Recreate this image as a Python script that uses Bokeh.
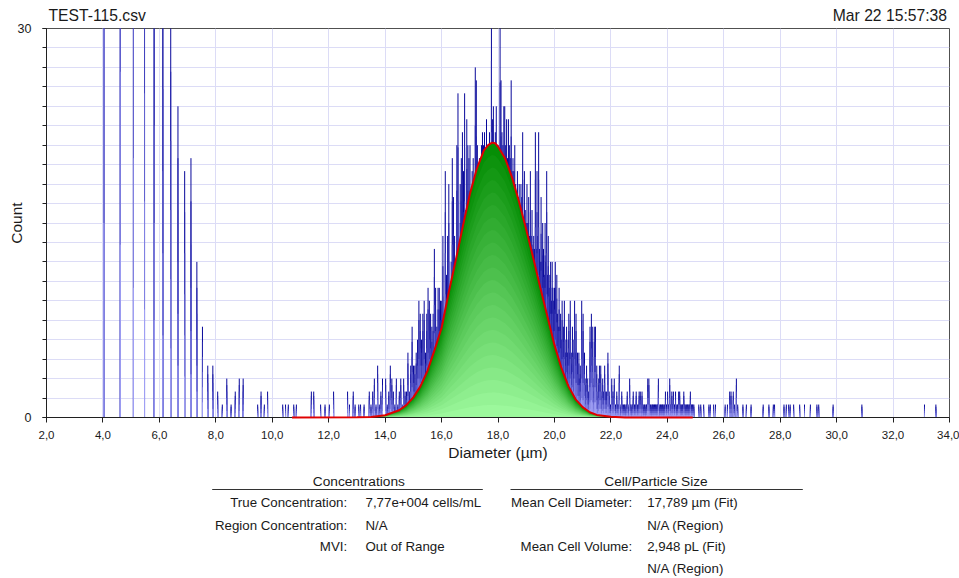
import numpy as np
from bokeh.plotting import figure
from bokeh.models import Range1d, FixedTicker
from bokeh.layouts import column
from bokeh.embed import file_html
from bokeh.resources import INLINE
from bokeh.core.properties import value

FONT = "Liberation Sans"

# ---------------- texts ----------------
title_left = "TEST-115.csv"
title_right = "Mar 22 15:57:38"
x_label = "Diameter (µm)"
y_label = "Count"
x_ticks = [2, 4, 6, 8, 10, 12, 14, 16, 18, 20, 22, 24, 26, 28, 30, 32, 34]
x_tick_labels = ["2,0", "4,0", "6,0", "8,0", "10,0", "12,0", "14,0", "16,0", "18,0",
                 "20,0", "22,0", "24,0", "26,0", "28,0", "30,0", "32,0", "34,0"]
y_ticks = [0, 30]
y_minor_ticks = [0, 1.5, 3, 4.5, 6, 7.5, 9, 10.5, 12, 13.5, 15, 16.5, 18, 19.5, 21,
                 22.5, 24, 25.5, 27, 28.5, 30]

conc_title = "Concentrations"
conc_labels = ["True Concentration:", "Region Concentration:", "MVI:"]
conc_values = ["7,77e+004 cells/mL", "N/A", "Out of Range"]
size_title = "Cell/Particle Size"
size_labels = ["Mean Cell Diameter:", "", "Mean Cell Volume:", ""]
size_values = ["17,789 µm (Fit)", "N/A (Region)", "2,948 pL (Fit)", "N/A (Region)"]

# ---------------- histogram data (equal-volume bins, bin i centre volume = i * step) ----
bin_volume_step = 32.8  # fL per bin

left_bins = [2, 3, 4, 5, 6, 7, 8, 9, 10, 11, 12, 13, 14, 15, 16, 17, 18, 19, 20, 21, 22,
             26, 27, 28, 29, 34, 35, 36, 38, 39, 45, 46, 49, 51, 53, 55, 62, 63, 65, 66,
             68, 69, 71, 74]
left_counts = [90, 80, 60, 50, 45, 38, 32, 24, 19, 20, 12, 7, 4, 4, 2, 1, 3, 1, 2, 3, 3,
               1, 2, 1, 2, 1, 1, 1, 1, 1, 2, 2, 1, 1, 1, 2, 2, 1, 2, 1,
               1, 1, 1, 2]

dense_first_bin = 75
dense_counts = [
    1, 2, 3, 1, 4, 1, 2, 3, 0, 3,
    1, 2, 4, 3, 2, 1, 3, 1, 2, 3,
    1, 3, 2, 2, 5, 2, 4, 7, 4, 4,
    5, 6, 9, 8, 6, 8, 9, 5, 8, 10,
    9, 8, 7, 8, 13, 10, 7, 10, 10, 9,
    9, 14, 8, 19, 11, 14, 18, 10, 12, 20,
    17, 14, 12, 21, 25, 13, 18, 20, 22, 19,
    25, 16, 23, 21, 20, 21, 17, 19, 20, 18,
    27, 26, 21, 19, 20, 18, 21, 22, 21, 22,
    20, 23, 20, 21, 22, 20, 33, 23, 24, 21,
    22, 24, 20, 21, 20, 31, 26, 22, 21, 24,
    24, 21, 23, 20, 23, 21, 20, 26, 19, 20,
    19, 21, 18, 17, 19, 17, 18, 16, 18, 17,
    22, 15, 19, 16, 15, 18, 15, 17, 14, 19,
    14, 16, 13, 14, 13, 22, 13, 19, 14, 22,
    13, 12, 17, 12, 15, 13, 11, 15, 12, 19,
    11, 14, 10, 11, 12, 9, 12, 10, 9, 10,
    12, 8, 11, 8, 7, 10, 7, 8, 6, 9,
    6, 7, 9, 6, 5, 7, 5, 6, 8, 5,
    9, 4, 5, 7, 4, 6, 9, 5, 8, 4,
    5, 3, 5, 3, 4, 2, 9, 4, 8, 3,
    5, 3, 2, 4, 3, 1, 2, 3, 7, 4,
    8, 3, 7, 2, 3, 7, 7, 2, 4, 1,
    2, 3, 4, 2, 4, 1, 2, 3, 2, 1,
    4, 2, 1, 2, 1, 5, 1, 2, 1, 1,
    0, 3, 1, 2, 1, 3, 1, 1, 0, 2,
    1, 1, 1, 4, 1, 0, 1, 2, 1, 0,
    1, 1, 1, 0, 1, 1, 2, 1, 0, 1,
    3, 1, 1, 0, 1, 1, 2, 1, 1, 0,
    1, 2, 1, 1, 0, 1, 2, 1, 2, 1,
    0, 2, 1, 1, 0, 1, 1, 0, 1, 1,
    1, 3, 1, 3, 1, 0, 1, 1, 0, 1,
    1, 1, 0, 1, 1, 1, 0, 1, 1, 1,
    3, 1, 0, 1, 1, 0, 1, 1, 1, 0,
    1, 1, 0, 2, 1, 1, 0, 2, 1, 1,
    0, 3, 1, 1, 0, 2, 1, 1, 2, 0,
    1, 1, 2, 1, 0, 1, 1, 0, 2, 1,
    2, 0, 1, 1, 0, 1, 1, 0, 2, 1,
    1, 0, 1, 1, 0, 1, 1, 0, 1, 1,
    0, 2, 1, 1, 0, 1, 1, 0, 1,
]

right_bins = [483, 487, 493, 504, 507, 514, 518, 539, 544, 549, 552, 557, 560, 564, 567,
              579, 587, 598, 627, 641, 652, 655, 679, 685, 691, 695, 704, 720, 733, 749,
              767, 772, 813, 899, 1107, 1148]
right_counts = [1, 1, 1, 1, 1, 1, 1, 1, 1, 2, 2, 2, 1, 3, 1,
                1, 1, 1, 1, 1, 1, 1, 1, 1, 1, 1, 1, 1, 1, 1,
                1, 1, 1, 1, 1, 1]

# ---------------- fitted curve ----------------
fit_diam = [10.7, 13.0, 13.5, 14.0, 14.5, 14.75, 15.0, 15.25, 15.5, 15.75, 16.0, 16.25,
            16.5, 16.75, 17.0, 17.25, 17.5, 17.65, 17.79, 17.9, 18.0, 18.25, 18.5, 18.75,
            19.0, 19.25, 19.5, 19.75, 20.0, 20.25, 20.5, 20.75, 21.0, 21.25, 21.5, 22.0,
            22.5, 24.9]
fit_count = [0, 0.01, 0.04, 0.17, 0.56, 0.95, 1.55, 2.4, 3.6, 5.2, 6.9, 9.6,
             12.1, 14.7, 17.2, 19.2, 20.6, 21.0, 21.2, 21.15, 20.9, 20.0, 18.5, 16.6,
             14.5, 12.3, 10.0, 7.8, 5.6, 3.8, 2.4, 1.4, 0.8, 0.4, 0.2, 0.05,
             0.0, 0.0]

# ---------------- assemble bars ----------------
idx = np.array(left_bins + list(range(dense_first_bin, dense_first_bin + len(dense_counts)))
               + right_bins, dtype=float)
cnt = np.array(left_counts + dense_counts + right_counts, dtype=float)
keep = cnt > 0
idx, cnt = idx[keep], cnt[keep]
diam = np.cbrt(bin_volume_step * idx)


def mix(c1, c2, t):
    a = [int(c1[i:i + 2], 16) for i in (1, 3, 5)]
    b = [int(c2[i:i + 2], 16) for i in (1, 3, 5)]
    return "#%02x%02x%02x" % tuple(int(round(a[j] + (b[j] - a[j]) * t)) for j in range(3))


GRID = "#dcdcf6"
TXT = "#1a1a1a"
BORDERS = dict(min_border_left=46, min_border_right=10)

# ---------------- header (data x = page pixel) ----------------
h = figure(width=959, height=23, x_range=Range1d(46, 949), y_range=Range1d(23, 0),
           output_backend="svg", toolbar_location=None, title=None,
           x_axis_type=None, y_axis_type=None, min_border_top=0, min_border_bottom=0,
           **BORDERS)
h.grid.visible = False
h.outline_line_color = None
h.text(x=[48], y=[15.2], text=[title_left], text_font=value(FONT), text_font_size="15.7px",
       text_align="left", text_baseline="middle", text_color=TXT)
h.text(x=[946.5], y=[15.2], text=[title_right], text_font=value(FONT), text_font_size="15.7px",
       text_align="right", text_baseline="middle", text_color=TXT)

# ---------------- main plot ----------------
p = figure(width=959, height=447, x_range=Range1d(2, 34), y_range=Range1d(0, 30),
           output_backend="svg", toolbar_location=None, title=None,
           min_border_top=5, min_border_bottom=53, **BORDERS)
p.outline_line_color = "#505050"
p.outline_line_width = 1

p.xaxis.ticker = FixedTicker(ticks=x_ticks)
p.xaxis.major_label_overrides = {t: l for t, l in zip(x_ticks, x_tick_labels)}
p.xaxis.axis_label = x_label
p.xaxis.major_tick_out = 5
p.xaxis.major_tick_in = 0
p.xaxis.minor_tick_line_color = None
p.xaxis.major_label_standoff = 8
p.xaxis.axis_label_standoff = 2
p.xaxis.major_label_text_font_size = "11.5px"

p.yaxis.ticker = FixedTicker(ticks=y_ticks, minor_ticks=y_minor_ticks)
p.yaxis.axis_label = y_label
p.yaxis.major_tick_out = 4
p.yaxis.major_tick_in = 0
p.yaxis.minor_tick_out = 4
p.yaxis.minor_tick_in = 0
p.yaxis.major_label_standoff = 11
p.yaxis.axis_label_standoff = -10
p.yaxis.major_label_text_font_size = "12.5px"

for ax in (p.xaxis, p.yaxis):
    ax.axis_line_color = "#202020"
    ax.major_tick_line_color = "#202020"
    ax.major_label_text_font = FONT
    ax.major_label_text_color = TXT
    ax.axis_label_text_font = FONT
    ax.axis_label_text_font_size = "15.5px"
    ax.axis_label_text_font_style = "normal"
    ax.axis_label_text_color = TXT
p.yaxis.minor_tick_line_color = "#202020"

p.xgrid.grid_line_color = GRID
p.ygrid.grid_line_color = GRID
p.ygrid.minor_grid_line_color = GRID

# histogram bars with a per-bar vertical gradient (dark top, light bottom)
K = 6
bar_top, bar_bottom = "#08089a", "#a0a0f4"
for k in range(K):
    frac = 1 - k / K
    p.segment(x0=diam, y0=np.zeros_like(cnt), x1=diam, y1=cnt * frac,
              line_color=mix(bar_top, bar_bottom, k / (K - 1)), line_width=1)

# fitted curve filled with a green gradient
G = 22
green_top, green_bottom = "#068e06", "#9cf89c"
fit_arr = np.array(fit_count)
for k in range(G):
    frac = 1 - k / G
    p.varea(x=fit_diam, y1=np.zeros_like(fit_arr), y2=fit_arr * frac,
            fill_color=mix(green_top, green_bottom, k / (G - 1)), fill_alpha=1)
p.line(x=fit_diam, y=fit_count, line_color="#e00000", line_width=2, level="overlay")

# ---------------- results table (data x / y = page pixel) ----------------
t = figure(width=959, height=108, x_range=Range1d(46, 949), y_range=Range1d(578, 470),
           output_backend="svg", toolbar_location=None, title=None,
           x_axis_type=None, y_axis_type=None, min_border_top=0, min_border_bottom=0,
           **BORDERS)
t.grid.visible = False
t.outline_line_color = None

t.text(x=[358.3, 655.5], y=[481, 481], text=[conc_title, size_title],
       text_font=value(FONT), text_font_size="13.7px", text_align="center",
       text_baseline="middle", text_color=TXT)
t.segment(x0=[211.7, 510], y0=[489, 489], x1=[482.3, 802.3], y1=[489, 489],
          line_color="#333333", line_width=1)

row_y = [502, 524.8, 546, 567.6]
t.text(x=[346.7] * 3, y=row_y[:3], text=conc_labels, text_font=value(FONT),
       text_font_size="13.3px", text_align="right", text_baseline="middle", text_color=TXT)
t.text(x=[365] * 3, y=row_y[:3], text=conc_values, text_font=value(FONT),
       text_font_size="13.3px", text_align="left", text_baseline="middle", text_color=TXT)
t.text(x=[631.7] * 4, y=row_y, text=size_labels, text_font=value(FONT),
       text_font_size="13.3px", text_align="right", text_baseline="middle", text_color=TXT)
t.text(x=[646.7] * 4, y=row_y, text=size_values, text_font=value(FONT),
       text_font_size="13.3px", text_align="left", text_baseline="middle", text_color=TXT)

layout = column(h, p, t, spacing=0)
open("out.html", "w").write(file_html(layout, INLINE))
